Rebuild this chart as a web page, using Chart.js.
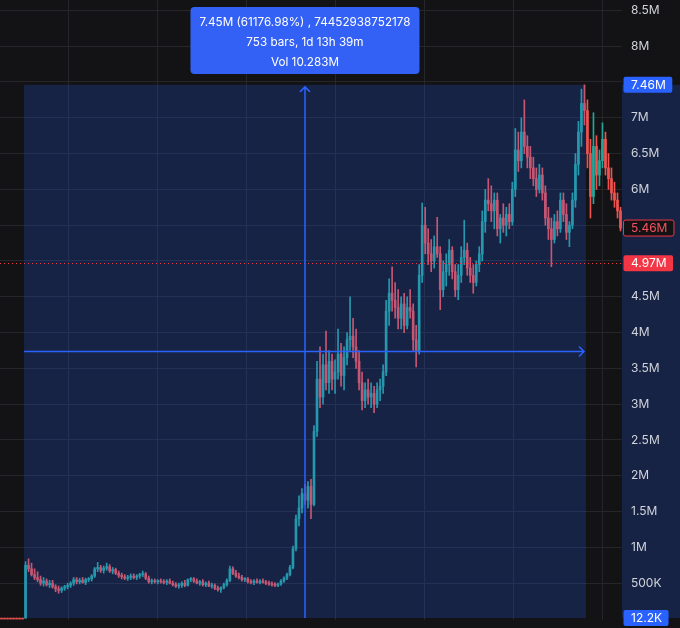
<!DOCTYPE html>
<html>
<head>
<meta charset="utf-8">
<script src="https://cdn.jsdelivr.net/npm/chart.js@4.4.1/dist/chart.umd.min.js"></script>
<style>
  html, body { margin: 0; padding: 0; background: #131316; }
  canvas { display: block; }
</style>
</head>
<body>
<canvas id="chart" width="680" height="628"></canvas>
<script>
// candles, price in millions
const opens = [
  0.0122,0.0122,0.0122,0.0122,0.0122,0.0122,0.0122,0.0122,0.0122,0.75,
  0.70,0.62,0.58,0.55,0.50,0.53,0.48,0.50,0.45,0.42,
  0.40,0.43,0.45,0.47,0.50,0.55,0.52,0.54,0.51,0.55,
  0.56,0.60,0.70,0.72,0.68,0.71,0.73,0.67,0.69,0.64,
  0.61,0.59,0.57,0.58,0.60,0.58,0.60,0.62,0.63,0.57,
  0.52,0.53,0.52,0.53,0.52,0.51,0.53,0.50,0.48,0.46,
  0.47,0.50,0.47,0.55,0.56,0.53,0.50,0.52,0.48,0.50,
  0.46,0.47,0.43,0.41,0.44,0.48,0.54,0.70,0.64,0.60,
  0.58,0.55,0.56,0.52,0.51,0.53,0.51,0.53,0.51,0.50,
  0.49,0.48,0.47,0.49,0.53,0.57,0.62,0.72,0.98,1.40,
  1.55,1.75,1.66,1.85,1.60,2.62,3.35,3.10,3.55,3.30,
  3.60,3.35,3.45,3.70,3.40,3.65,3.90,3.95,3.80,3.60,
  3.30,3.05,3.20,3.10,3.15,3.00,3.20,3.25,3.45,4.30,
  4.55,4.45,4.35,4.20,4.40,4.10,4.35,4.30,3.90,3.75,
  4.80,5.50,5.25,5.10,5.00,5.20,5.10,4.60,4.85,4.95,
  5.15,4.85,4.60,4.80,5.05,5.15,4.90,4.80,4.70,4.95,
  5.10,5.55,5.85,5.80,5.70,5.85,5.45,5.60,5.50,5.65,
  5.55,6.00,6.55,6.40,6.80,6.60,6.45,6.30,6.15,6.00,
  6.20,5.95,5.60,5.45,5.30,5.55,5.45,5.85,5.65,5.40,
  5.50,5.85,6.35,6.80,7.20,7.10,6.50,5.90,6.60,6.20,
  6.40,6.70,6.30,6.15,5.95,5.85,5.70
];
const highs = [
  0.0122,0.0122,0.0122,0.0122,0.0122,0.0122,0.0122,0.0122,0.80,0.84,
  0.78,0.70,0.66,0.60,0.58,0.56,0.54,0.54,0.48,0.46,
  0.45,0.47,0.50,0.52,0.58,0.58,0.57,0.58,0.57,0.58,
  0.62,0.72,0.79,0.75,0.74,0.78,0.76,0.72,0.71,0.67,
  0.64,0.62,0.61,0.63,0.63,0.62,0.64,0.67,0.65,0.60,
  0.56,0.56,0.55,0.56,0.55,0.55,0.56,0.53,0.51,0.50,
  0.52,0.54,0.56,0.58,0.58,0.56,0.54,0.55,0.52,0.53,
  0.50,0.49,0.46,0.45,0.50,0.56,0.74,0.73,0.68,0.64,
  0.61,0.58,0.58,0.55,0.55,0.56,0.55,0.56,0.54,0.53,
  0.52,0.51,0.50,0.55,0.59,0.64,0.75,1.02,1.45,1.72,
  1.82,1.88,1.92,1.95,2.70,3.60,3.80,3.70,4.02,3.75,
  3.70,3.62,4.05,3.85,3.80,4.00,4.50,4.20,4.05,3.75,
  3.45,3.30,3.35,3.30,3.25,3.30,3.35,3.55,4.45,4.75,
  4.92,4.70,4.60,4.50,4.55,4.50,4.60,4.40,4.10,4.95,
  5.81,5.75,5.45,5.30,5.35,5.61,5.20,5.00,5.10,5.30,
  5.20,4.95,4.95,5.20,5.57,5.25,5.05,4.95,5.00,5.20,
  5.70,6.00,6.15,6.05,5.95,5.95,5.65,5.80,5.75,5.80,
  6.10,6.85,6.80,7.00,7.25,6.75,6.60,6.45,6.30,6.35,
  6.30,6.05,5.75,5.60,5.65,5.70,5.95,5.95,5.80,5.55,
  5.95,6.50,6.95,7.40,7.46,7.25,6.70,7.07,6.75,6.55,
  6.93,6.80,6.50,6.30,6.10,5.95,5.75
];
const lows = [
  0.0122,0.0122,0.0122,0.0122,0.0122,0.0122,0.0122,0.0122,0.0122,0.66,
  0.60,0.55,0.52,0.47,0.46,0.46,0.44,0.43,0.38,0.36,
  0.37,0.40,0.42,0.44,0.47,0.49,0.49,0.50,0.48,0.52,
  0.53,0.58,0.66,0.65,0.64,0.68,0.65,0.63,0.62,0.58,
  0.56,0.55,0.54,0.55,0.56,0.55,0.57,0.59,0.55,0.50,
  0.49,0.50,0.49,0.50,0.49,0.48,0.49,0.46,0.44,0.43,
  0.44,0.45,0.46,0.52,0.51,0.49,0.47,0.46,0.45,0.45,
  0.43,0.41,0.39,0.37,0.42,0.46,0.52,0.62,0.58,0.56,
  0.53,0.52,0.50,0.49,0.48,0.50,0.49,0.50,0.48,0.47,
  0.46,0.45,0.45,0.47,0.51,0.55,0.60,0.70,0.95,1.30,
  1.48,1.60,1.55,1.40,1.58,2.55,2.95,3.00,3.20,3.15,
  3.20,3.15,3.35,3.25,3.20,3.55,3.75,3.65,3.50,3.20,
  2.92,2.95,3.00,2.95,2.88,2.95,3.05,3.15,3.40,4.10,
  4.30,4.20,4.05,4.05,4.00,4.05,4.20,3.75,3.52,3.70,
  4.70,5.10,4.95,4.85,4.90,5.05,4.32,4.50,4.65,4.80,
  4.75,4.50,4.46,4.70,4.95,4.80,4.70,4.55,4.65,4.85,
  5.00,5.40,5.70,5.55,5.45,5.35,5.25,5.40,5.35,5.45,
  5.50,5.90,6.25,6.30,6.50,6.30,6.15,6.05,5.90,5.95,
  5.85,5.50,5.30,4.92,5.25,5.35,5.40,5.55,5.30,5.20,
  5.45,5.75,6.20,6.60,6.90,6.30,5.60,5.80,6.00,6.05,
  6.30,6.20,6.00,5.85,5.75,5.60,5.42
];
const closes = [
  0.0122,0.0122,0.0122,0.0122,0.0122,0.0122,0.0122,0.0122,0.75,0.70,
  0.62,0.58,0.55,0.50,0.53,0.48,0.50,0.45,0.42,0.40,
  0.43,0.45,0.47,0.50,0.55,0.52,0.54,0.51,0.55,0.56,
  0.60,0.70,0.72,0.68,0.71,0.73,0.67,0.69,0.64,0.61,
  0.59,0.57,0.58,0.60,0.58,0.60,0.62,0.63,0.57,0.52,
  0.53,0.52,0.53,0.52,0.51,0.53,0.50,0.48,0.46,0.47,
  0.50,0.47,0.55,0.56,0.53,0.50,0.52,0.48,0.50,0.46,
  0.47,0.43,0.41,0.44,0.48,0.54,0.70,0.64,0.60,0.58,
  0.55,0.56,0.52,0.51,0.53,0.51,0.53,0.51,0.50,0.49,
  0.48,0.47,0.49,0.53,0.57,0.62,0.72,0.98,1.40,1.55,
  1.75,1.66,1.85,1.60,2.62,3.35,3.10,3.55,3.30,3.60,
  3.35,3.45,3.70,3.40,3.65,3.90,3.95,3.80,3.60,3.30,
  3.05,3.20,3.10,3.15,3.00,3.20,3.25,3.45,4.30,4.55,
  4.45,4.35,4.20,4.40,4.10,4.35,4.30,3.90,3.75,4.80,
  5.50,5.25,5.10,5.00,5.20,5.10,4.60,4.85,4.95,5.15,
  4.85,4.60,4.80,5.05,5.15,4.90,4.80,4.70,4.95,5.10,
  5.55,5.85,5.80,5.70,5.85,5.45,5.60,5.50,5.65,5.55,
  6.00,6.55,6.40,6.80,6.60,6.45,6.30,6.15,6.00,6.20,
  5.95,5.60,5.45,5.30,5.55,5.45,5.85,5.65,5.40,5.50,
  5.85,6.35,6.80,7.20,7.10,6.50,5.90,6.60,6.20,6.40,
  6.70,6.30,6.15,5.95,5.85,5.70,5.46
];

// price axis
const tickValues = [0.5,1,1.5,2,2.5,3,3.5,4,4.5,5,5.5,6,6.5,7,7.5,8,8.5];
const tickLabels = ['500K','1M','1.5M','2M','2.5M','3M','3.5M','4M','4.5M','','','6M','6.5M','7M','','8M','8.5M'];
// day separators (bar index)
const timeTicks = [22.17, 51.83, 81.5, 111.17, 140.83, 170.5, 200.17];

// measure tool
const rangeStart = 8, rangeEnd = 194;
const rangeHigh = 7.46, rangeLow = 0.0122;
const rangeInfo = ['7.45M (61176.98%) , 74452938752178', '753 bars, 1d 13h 39m', 'Vol 10.283M'];
const lastPrice = 5.46, markPrice = 4.97;

const bg = '#131316';
const gridColor = '#25252a';
const upColor = '#26a69a', downColor = '#ef5350';
const blue = '#2962ff';

const colors = closes.map((c, i) => c > opens[i] ? upColor : downColor);
const bodies = closes.map((c, i) => ({ x: i, y: [opens[i], c] }));
const wicks = closes.map((c, i) => ({ x: i, y: [lows[i], highs[i]] }));

function roundRect(ctx, x, y, w, h, r) {
  ctx.beginPath();
  ctx.moveTo(x + r, y);
  ctx.arcTo(x + w, y, x + w, y + h, r);
  ctx.arcTo(x + w, y + h, x, y + h, r);
  ctx.arcTo(x, y + h, x, y, r);
  ctx.arcTo(x, y, x + w, y, r);
  ctx.closePath();
}

function priceTag(chart, value, text, fill, stroke, textColor) {
  const ctx = chart.ctx, a = chart.chartArea;
  const y = chart.scales.y.getPixelForValue(value);
  ctx.font = '12px Inter';
  const w = ctx.measureText(text).width + 14;
  roundRect(ctx, a.right + 1.5, y - 8, w, 16, 2);
  ctx.fillStyle = fill;
  ctx.fill();
  if (stroke) { ctx.strokeStyle = stroke; ctx.lineWidth = 1; ctx.stroke(); }
  ctx.fillStyle = textColor;
  ctx.textBaseline = 'middle';
  ctx.textAlign = 'left';
  ctx.fillText(text, a.right + 9, y + 0.5);
}

const overlay = {
  id: 'overlay',
  beforeDraw(chart) {
    const { ctx, width, height, chartArea: a, scales: { y } } = chart;
    ctx.save();
    ctx.fillStyle = bg;
    ctx.fillRect(0, 0, width, height);
    const yt = y.getPixelForValue(rangeHigh), yb = y.getPixelForValue(rangeLow);
    ctx.fillStyle = 'rgba(41,98,255,0.2)';
    ctx.fillRect(a.right, yt, width - a.right, yb - yt);
    ctx.restore();
  },
  afterDatasetsDraw(chart) {
    const { ctx, chartArea: a, scales: { x, y } } = chart;
    const xl = x.getPixelForValue(rangeStart - 0.5), xr = x.getPixelForValue(rangeEnd + 0.5);
    const yt = y.getPixelForValue(rangeHigh), yb = y.getPixelForValue(rangeLow);
    const xm = (xl + xr) / 2, ym = (yt + yb) / 2;
    ctx.save();
    ctx.fillStyle = 'rgba(41,98,255,0.2)';
    ctx.fillRect(xl, yt, xr - xl, yb - yt);

    // mark price dotted line
    const yp = y.getPixelForValue(markPrice);
    ctx.strokeStyle = '#f23645';
    ctx.lineWidth = 1;
    ctx.setLineDash([1, 3]);
    ctx.beginPath();
    ctx.moveTo(a.left, Math.round(yp) + 0.5);
    ctx.lineTo(a.right, Math.round(yp) + 0.5);
    ctx.stroke();
    ctx.setLineDash([]);

    // arrows
    ctx.strokeStyle = blue;
    ctx.lineWidth = 1.5;
    ctx.beginPath();
    ctx.moveTo(xm, yb);
    ctx.lineTo(xm, yt + 2);
    ctx.moveTo(xm - 5, yt + 7);
    ctx.lineTo(xm, yt + 2);
    ctx.lineTo(xm + 5, yt + 7);
    ctx.moveTo(xl, ym);
    ctx.lineTo(xr - 2, ym);
    ctx.moveTo(xr - 7, ym - 5);
    ctx.lineTo(xr - 2, ym);
    ctx.lineTo(xr - 7, ym + 5);
    ctx.stroke();

    // info box
    const bw = 229, bh = 67;
    roundRect(ctx, xm - bw / 2, 7, bw, bh, 4);
    ctx.fillStyle = '#3461f5';
    ctx.fill();
    ctx.fillStyle = '#ffffff';
    ctx.font = '11.7px Inter';
    ctx.textAlign = 'center';
    ctx.textBaseline = 'middle';
    rangeInfo.forEach((t, i) => ctx.fillText(t, xm, 22 + i * 20));

    // price axis tags
    priceTag(chart, rangeHigh, '7.46M', blue, null, '#ffffff');
    priceTag(chart, lastPrice, '5.46M', bg, '#f23645', '#f7525f');
    priceTag(chart, markPrice, '4.97M', '#f23645', null, '#ffffff');
    priceTag(chart, rangeLow, '12.2K', blue, null, '#ffffff');
    ctx.restore();
  }
};

new Chart(document.getElementById('chart'), {
  type: 'bar',
  data: {
    datasets: [
      { data: bodies, backgroundColor: colors, barThickness: 2, minBarLength: 1, grouped: false },
      { data: wicks, backgroundColor: colors, barThickness: 1, grouped: false }
    ]
  },
  options: {
    responsive: false,
    animation: false,
    layout: { padding: { top: 0, bottom: 8 } },
    plugins: { legend: { display: false }, tooltip: { enabled: false } },
    scales: {
      x: {
        type: 'linear',
        min: -0.5,
        max: closes.length - 0.5,
        offset: false,
        ticks: { display: false },
        grid: { color: gridColor, drawTicks: false, offset: false },
        border: { display: false },
        afterBuildTicks: s => { s.ticks = timeTicks.map(v => ({ value: v })); },
        afterFit: s => { s.height = 0; s.paddingLeft = 0; s.paddingRight = 0; }
      },
      y: {
        position: 'right',
        min: -0.014,
        max: 8.645,
        grid: { color: gridColor, drawTicks: false },
        border: { display: false },
        ticks: {
          color: '#d1d4dc',
          font: { family: 'Inter', size: 12 },
          padding: 9,
          autoSkip: false,
          callback: (v, i) => tickLabels[i]
        },
        afterBuildTicks: s => { s.ticks = tickValues.map(v => ({ value: v })); },
        afterFit: s => { s.width = 58; s.paddingTop = 0; s.paddingBottom = 0; }
      }
    }
  },
  plugins: [overlay]
});
</script>
</body>
</html>
